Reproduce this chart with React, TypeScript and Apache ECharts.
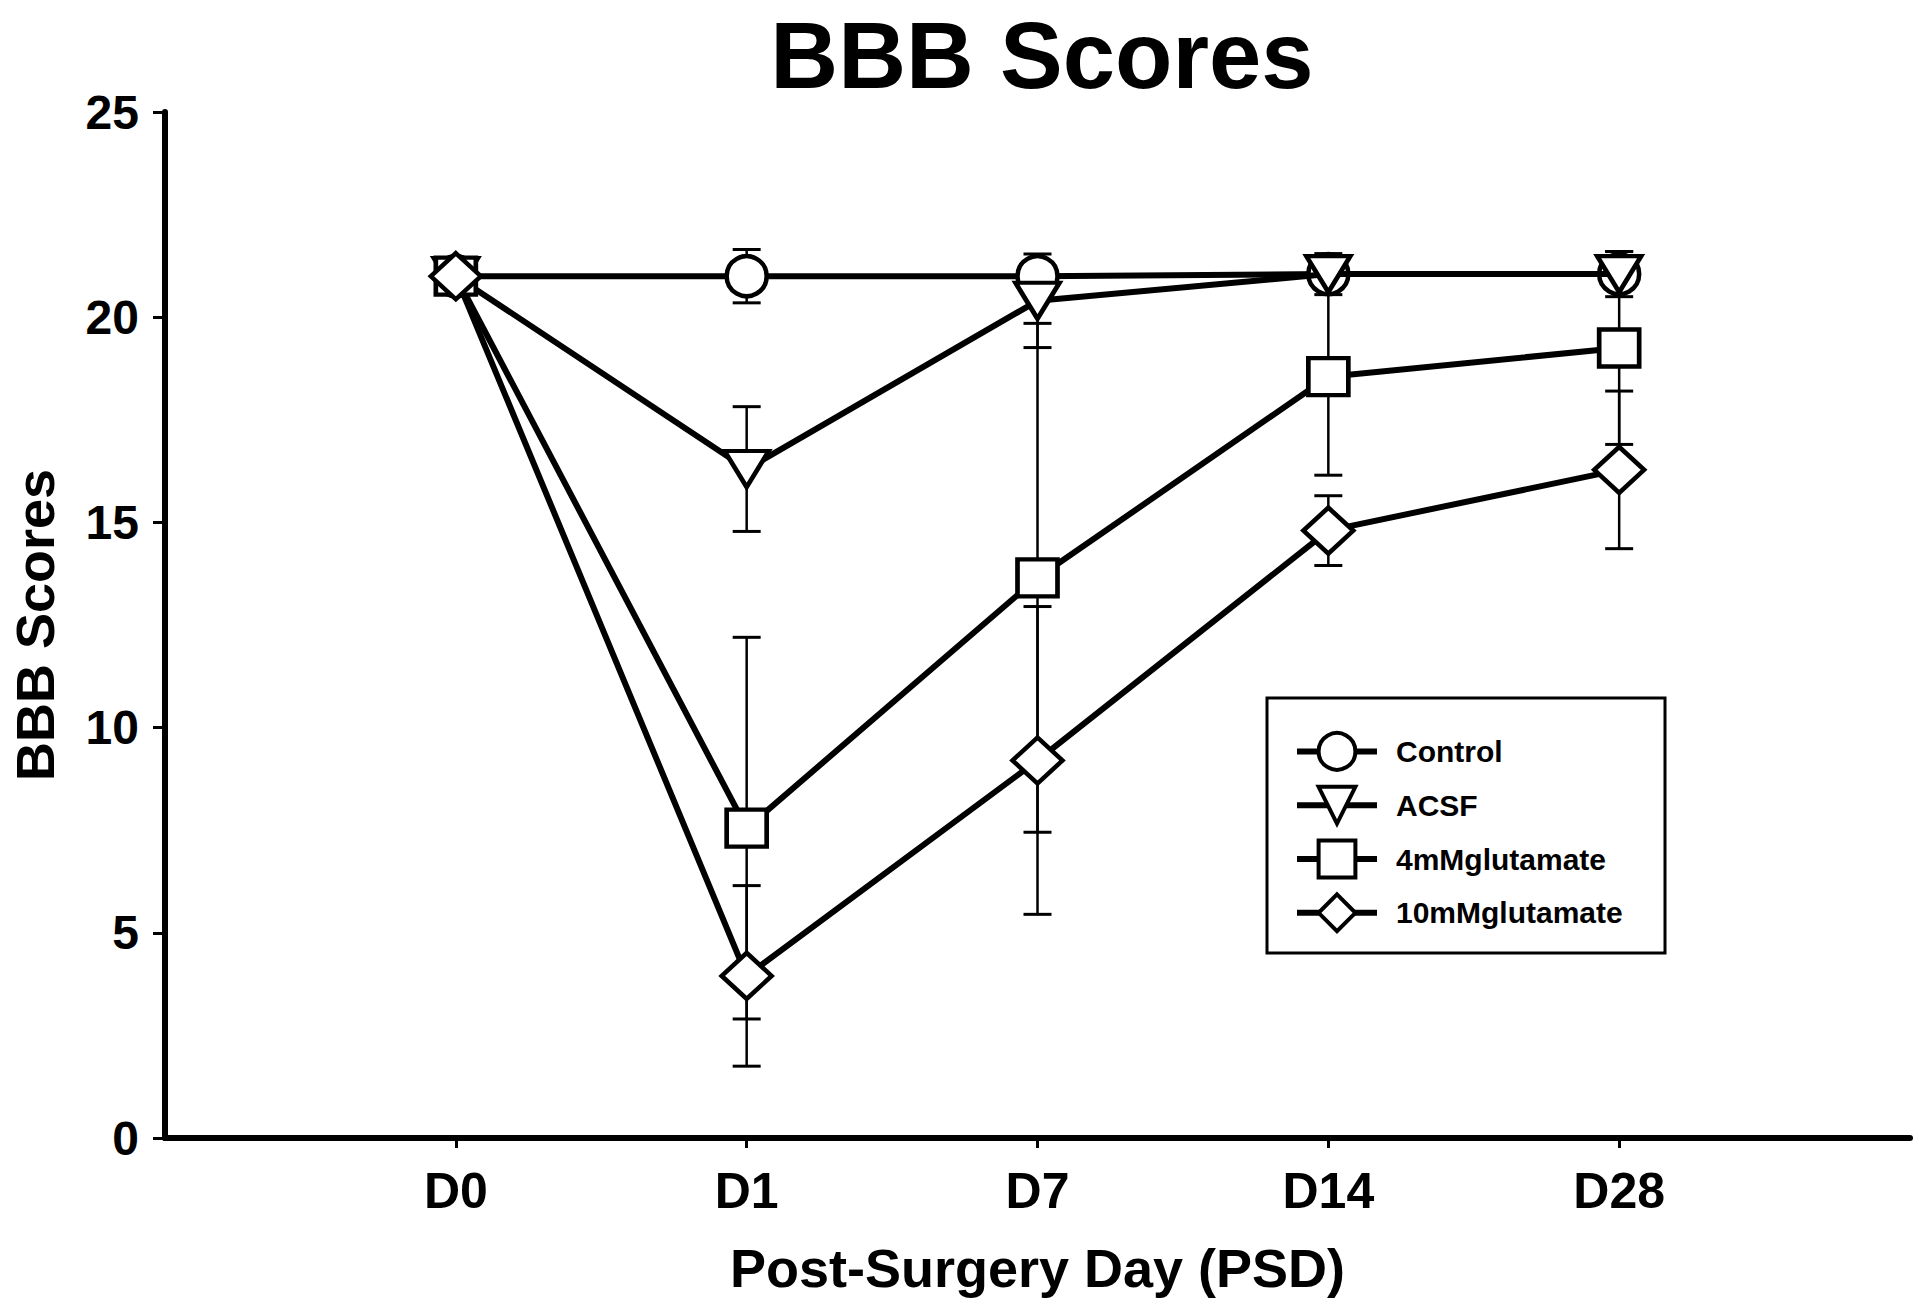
import React, { useEffect, useRef } from "react";
import * as echarts from "echarts";

const dayLabels = ["D0", "D1", "D7", "D14", "D28"];
const dayPos = [1, 2, 3, 4, 5];
const yTicks = [0, 5, 10, 15, 20, 25];

const seriesNames = ["Control", "ACSF", "4mMglutamate", "10mMglutamate"];
const controlMean = [21, 21, 21, 21.05, 21.05];
const controlErr = [0, 0.65, 0, 0, 0];
const acsfMean = [21, 16.3, 20.4, 21.05, 21.05];
const acsfErr = [0, 1.52, 1.14, 0.5, 0.55];
const glu4Mean = [21, 7.55, 13.65, 18.55, 19.25];
const glu4Err = [0, 4.65, 6.2, 2.4, 2.35];
const glu10Mean = [21, 3.95, 9.2, 14.8, 16.28];
const glu10Err = [0, 2.2, 3.75, 0.85, 1.92];

const FONT = "'Liberation Sans', Arial, Helvetica, sans-serif";

export default function App() {
  const ref = useRef<HTMLDivElement>(null);

  useEffect(() => {
    if (!ref.current) return;
    const chart = echarts.init(ref.current, null, { renderer: "svg" });

    const means = [controlMean, acsfMean, glu4Mean, glu10Mean];
    const errs = [controlErr, acsfErr, glu4Err, glu10Err];
    const symbols = ["circle", "triangle", "rect", "diamond"];
    const sizes: any[] = [40, [44, 36], [40, 37], [50, 46]];
    const rotates = [0, 180, 0, 0];

    const lineSeries = seriesNames.map((name, i) => ({
      name,
      type: "line",
      data: dayPos.map((x, j) => [x, means[i][j]]),
      symbol: symbols[i],
      symbolSize: sizes[i],
      symbolRotate: rotates[i],
      showSymbol: true,
      lineStyle: { color: "#000", width: 6 },
      itemStyle: { color: "#fff", borderColor: "#000", borderWidth: 4.5 },
      z: 2 + i * 0.01,
    }));

    const errData: number[][] = [];
    means.forEach((m, i) => {
      m.forEach((v, j) => {
        const e = errs[i][j];
        if (e > 0) errData.push([dayPos[j], v - e, v + e]);
      });
    });

    const errSeries = {
      name: "errors",
      type: "custom",
      data: errData,
      encode: { x: 0, y: [1, 2] },
      z: 1,
      renderItem: (params: any, api: any) => {
        const x = api.value(0);
        const lo = api.value(1);
        const hi = api.value(2);
        const top = api.coord([x, hi]);
        const bot = api.coord([x, lo]);
        const hw = 14;
        const st = { stroke: "#000", lineWidth: 2.5 };
        return {
          type: "group",
          children: [
            { type: "line", shape: { x1: top[0], y1: top[1], x2: bot[0], y2: bot[1] }, style: st },
            { type: "line", shape: { x1: top[0] - hw, y1: top[1], x2: top[0] + hw, y2: top[1] }, style: { stroke: "#000", lineWidth: 3 } },
            { type: "line", shape: { x1: bot[0] - hw, y1: bot[1], x2: bot[0] + hw, y2: bot[1] }, style: { stroke: "#000", lineWidth: 3 } },
          ],
        };
      },
    };

    const option: any = {
      animation: false,
      backgroundColor: "#fff",
      title: {
        text: "BBB Scores",
        left: 1042,
        top: 8,
        padding: 0,
        textAlign: "center",
        textStyle: { fontSize: 94, lineHeight: 94, fontWeight: "bold", fontFamily: FONT, color: "#000" },
      },
      grid: { left: 165, right: 10, top: 112, bottom: 174, outerBoundsMode: "none" },
      xAxis: {
        type: "value",
        min: 0,
        max: 6,
        interval: 1,
        name: "Post-Surgery Day (PSD)",
        nameLocation: "middle",
        nameGap: 103,
        nameTextStyle: { fontSize: 54, fontWeight: "bold", fontFamily: FONT, color: "#000" },
        axisLine: { show: true, lineStyle: { color: "#000", width: 6 } },
        axisTick: { show: true, length: 10, lineStyle: { color: "#000", width: 3 }, customValues: dayPos },
        axisLabel: {
          show: true,
          margin: 28,
          fontSize: 50,
          fontWeight: "bold",
          fontFamily: FONT,
          color: "#000",
          customValues: dayPos,
          formatter: (v: number) => {
            const k = dayPos.indexOf(Math.round(v));
            return k >= 0 ? dayLabels[k] : "";
          },
        },
        splitLine: { show: false },
      },
      yAxis: {
        type: "value",
        min: 0,
        max: 25,
        interval: 5,
        name: "BBB Scores",
        nameLocation: "middle",
        nameGap: 103,
        nameTextStyle: { fontSize: 54, fontWeight: "bold", fontFamily: FONT, color: "#000" },
        axisLine: { show: true, lineStyle: { color: "#000", width: 6 } },
        axisTick: { show: true, length: 12, lineStyle: { color: "#000", width: 3 } },
        axisLabel: {
          margin: 26,
          fontSize: 48,
          fontWeight: "bold",
          fontFamily: FONT,
          color: "#000",
          customValues: yTicks,
        },
        splitLine: { show: false },
      },
      legend: {
        data: seriesNames,
        orient: "vertical",
        left: 1294,
        top: 731,
        padding: 0,
        itemWidth: 80,
        itemHeight: 46,
        itemGap: 13,
        z: 5,
        lineStyle: { color: "#000", width: 6 },
        itemStyle: { color: "#fff", borderColor: "#000", borderWidth: 4 },
        textStyle: { fontSize: 30, fontWeight: "bold", fontFamily: FONT, color: "#000", padding: [0, 0, 0, 14] },
      },
      graphic: [
        {
          type: "rect",
          z: 4,
          shape: { x: 1267, y: 698, width: 398, height: 255 },
          style: { fill: "#fff", stroke: "#000", lineWidth: 3 },
        },
      ],
      series: [errSeries, ...lineSeries],
    };

    chart.setOption(option);
    return () => chart.dispose();
  }, []);

  return (
    <div
      ref={ref}
      style={{ position: "fixed", left: 0, top: 0, width: 1920, height: 1312, background: "#fff" }}
    />
  );
}
